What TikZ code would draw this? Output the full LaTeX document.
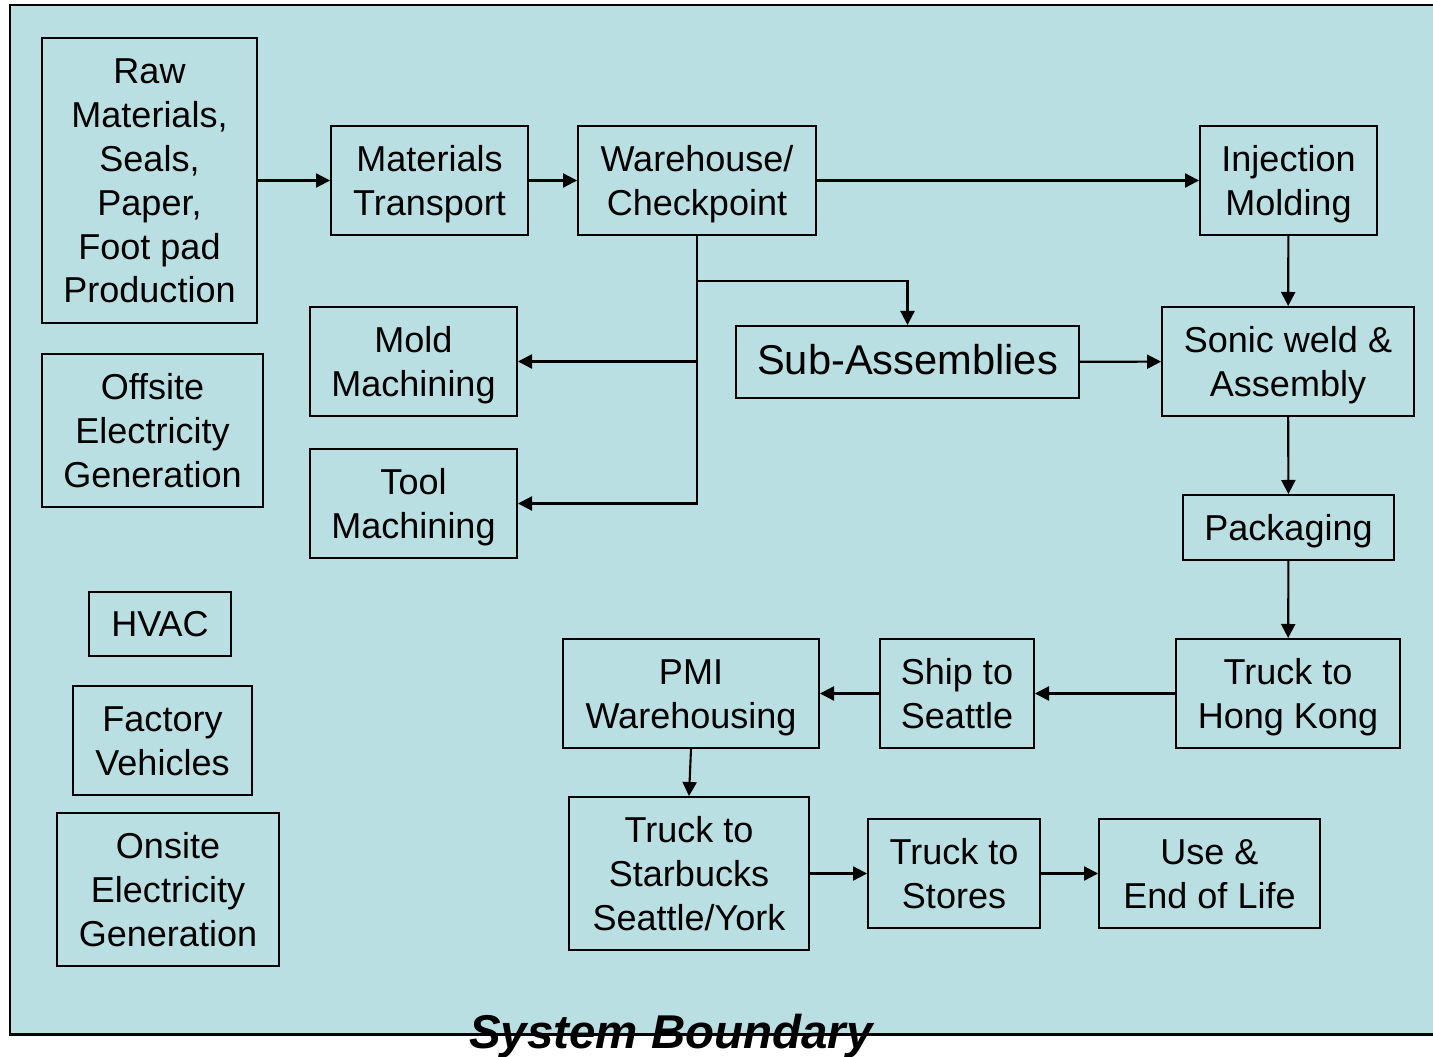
\documentclass[tikz,border=0pt]{standalone}
\usepackage{fontspec}
\usepackage{array}
\setmainfont{Liberation Sans}
\usetikzlibrary{arrows.meta}
\definecolor{bndfill}{RGB}{186,223,226}
% every text line gets the same height and depth
\newcommand{\linestrut}{\rule[-5.3pt]{0pt}{25pt}}
\newcommand{\stk}[1]{{\renewcommand{\arraystretch}{0}%
  \begin{tabular}{@{}>{\linestrut}c@{}}#1\end{tabular}}}
\tikzset{
  blk/.style={draw, line width=1.1pt, inner sep=0pt,
    font=\fontsize{20.5}{25}\selectfont},
  arr/.style={line width=1.2pt, -{Triangle[length=8pt,width=8pt]}}
}
\begin{document}
\begin{tikzpicture}[x=0.02cm,y=-0.02cm]
\useasboundingbox (0,0) rectangle (1433,1057);
\clip (0,0) rectangle (1433,1057);
% system boundary
\draw[line width=1.7pt, fill=bndfill] (10,5) rectangle (1460,1034);
\node[anchor=base, font=\fontsize{27}{30}\selectfont\bfseries\itshape] (sysb) at (671,1048) {System Boundary};
% supply side
\node[blk, minimum width=4.30cm, minimum height=5.70cm] (raw) at (149.5,180.5) {\stk{Raw\\Materials,\\Seals,\\Paper,\\Foot pad\\Production}};
\node[blk, minimum width=3.94cm, minimum height=2.18cm] (mtrans) at (429.5,180.5) {\stk{Materials\\Transport}};
\node[blk, minimum width=4.76cm, minimum height=2.18cm] (whouse) at (697,180.5) {\stk{Warehouse/\\Checkpoint}};
\node[blk, minimum width=3.54cm, minimum height=2.18cm] (inject) at (1288.5,180.5) {\stk{Injection\\Molding}};
\node[blk, minimum width=4.14cm, minimum height=2.18cm] (mold) at (413.5,361.5) {\stk{Mold\\Machining}};
\node[blk, minimum width=4.14cm, minimum height=2.18cm] (tool) at (413.5,503.5) {\stk{Tool\\Machining}};
\node[blk, minimum width=6.86cm, minimum height=1.44cm, font=\fontsize{23.7}{27}\selectfont] (subasm) at (907.5,362) {\stk{Sub-Assemblies}};
\node[blk, minimum width=5.04cm, minimum height=2.18cm] (sonic) at (1288,361.5) {\stk{Sonic weld \&\\Assembly}};
\node[blk, minimum width=4.22cm, minimum height=1.30cm] (pack) at (1288.5,527.5) {\stk{Packaging}};
% distribution
\node[blk, minimum width=4.48cm, minimum height=2.18cm] (truckhk) at (1288,693.5) {\stk{Truck to\\Hong Kong}};
\node[blk, minimum width=3.08cm, minimum height=2.18cm] (ship) at (957,693.5) {\stk{Ship to\\Seattle}};
\node[blk, minimum width=5.12cm, minimum height=2.18cm] (pmi) at (691,693.5) {\stk{PMI\\Warehousing}};
\node[blk, minimum width=4.80cm, minimum height=3.06cm] (trucksb) at (689,873.5) {\stk{Truck to\\Starbucks\\Seattle/York}};
\node[blk, minimum width=3.44cm, minimum height=2.18cm] (truckst) at (954,873.5) {\stk{Truck to\\Stores}};
\node[blk, minimum width=4.42cm, minimum height=2.18cm] (useeol) at (1209.5,873.5) {\stk{Use \&\\End of Life}};
% overheads
\node[blk, minimum width=4.42cm, minimum height=3.06cm] (offsite) at (152.5,430.5) {\stk{Offsite\\Electricity\\Generation}};
\node[blk, minimum width=2.84cm, minimum height=1.28cm] (hvac) at (160,624) {\stk{HVAC}};
\node[blk, minimum width=3.58cm, minimum height=2.18cm] (vehic) at (162.5,740.5) {\stk{Factory\\Vehicles}};
\node[blk, minimum width=4.44cm, minimum height=3.06cm] (onsite) at (168,889.5) {\stk{Onsite\\Electricity\\Generation}};
% flows
\coordinate (split) at (697,281);
\draw[arr] (raw) -- (mtrans);
\draw[arr] (mtrans) -- (whouse);
\draw[arr] (whouse) -- (inject);
\draw[arr] (whouse.south) -- (split) -| (subasm.north);
\draw[arr] (whouse.south) |- (mold.east);
\draw[arr] (whouse.south) |- (tool.east);
\draw[arr] (inject) -- (sonic);
\draw[arr] (subasm) -- (sonic);
\draw[arr] (sonic) -- (pack);
\draw[arr] (pack) -- (truckhk);
\draw[arr] (truckhk) -- (ship);
\draw[arr] (ship) -- (pmi);
\draw[arr] (pmi.south) -- (trucksb.north);
\draw[arr] (trucksb) -- (truckst);
\draw[arr] (truckst) -- (useeol);
\end{tikzpicture}
\end{document}
